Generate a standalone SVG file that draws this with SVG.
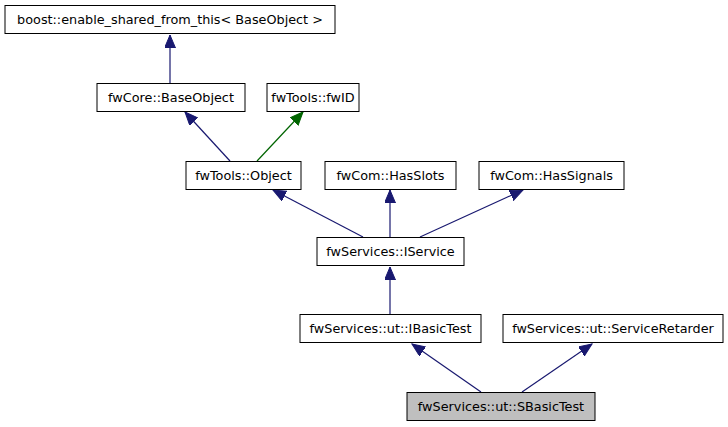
<svg xmlns="http://www.w3.org/2000/svg" width="728" height="427" viewBox="0 0 728 427">
<style>
.n rect{fill:#fff;stroke:#000;stroke-width:1}
.n text{font-family:"DejaVu Sans",sans-serif;font-size:12.8px;text-anchor:middle;fill:#000}
.e{fill:none;stroke:#191970;stroke-width:1.2}
.g{stroke:#006400}
</style>
<defs>
<marker id="ab" markerUnits="userSpaceOnUse" markerWidth="14" markerHeight="12" refX="13" refY="5.5" orient="auto"><path d="M0,0 L13,5.5 L0,11 z" fill="#191970" stroke="#191970"/></marker>
<marker id="ag" markerUnits="userSpaceOnUse" markerWidth="14" markerHeight="12" refX="13" refY="5.5" orient="auto"><path d="M0,0 L13,5.5 L0,11 z" fill="#006400" stroke="#006400"/></marker>
</defs>
<rect width="728" height="427" fill="#fff"/>
<g id="connectors">
<path class="e" d="M170,83 L170,35" marker-end="url(#ab)"/>
<path class="e" d="M230,161 L185,112" marker-end="url(#ab)"/>
<path class="e g" d="M257,161 L303,112" marker-end="url(#ag)"/>
<path class="e" d="M363,237 L273,190" marker-end="url(#ab)"/>
<path class="e" d="M390,237 L390,190" marker-end="url(#ab)"/>
<path class="e" d="M420,237 L523,190" marker-end="url(#ab)"/>
<path class="e" d="M390,314 L390,267" marker-end="url(#ab)"/>
<path class="e" d="M481,392 L412,344" marker-end="url(#ab)"/>
<path class="e" d="M522,392 L592,344" marker-end="url(#ab)"/>
</g>
<g id="enable_shared" class="n"><rect x="5" y="5.5" width="330" height="28"/><text x="170" y="24">boost::enable_shared_from_this&lt; BaseObject &gt;</text></g>
<g id="BaseObject" class="n"><rect x="97" y="83.5" width="148" height="28"/><text x="171" y="102">fwCore::BaseObject</text></g>
<g id="fwID" class="n"><rect x="267" y="83.5" width="92" height="28"/><text x="313" y="102">fwTools::fwID</text></g>
<g id="Object" class="n"><rect x="186" y="161.5" width="115" height="28"/><text x="243.5" y="180">fwTools::Object</text></g>
<g id="HasSlots" class="n"><rect x="325" y="161.5" width="131" height="28"/><text x="390.5" y="180">fwCom::HasSlots</text></g>
<g id="HasSignals" class="n"><rect x="479" y="161.5" width="145" height="28"/><text x="551.5" y="180">fwCom::HasSignals</text></g>
<g id="IService" class="n"><rect x="317" y="237.5" width="147" height="28"/><text x="390.5" y="256">fwServices::IService</text></g>
<g id="IBasicTest" class="n"><rect x="300" y="314.5" width="181" height="28"/><text x="390.5" y="333">fwServices::ut::IBasicTest</text></g>
<g id="ServiceRetarder" class="n"><rect x="503" y="314.5" width="220" height="28"/><text x="613" y="333">fwServices::ut::ServiceRetarder</text></g>
<g id="SBasicTest" class="n"><rect x="407" y="392.5" width="188" height="28" style="fill:#bfbfbf"/><text x="501" y="411">fwServices::ut::SBasicTest</text></g>
</svg>
